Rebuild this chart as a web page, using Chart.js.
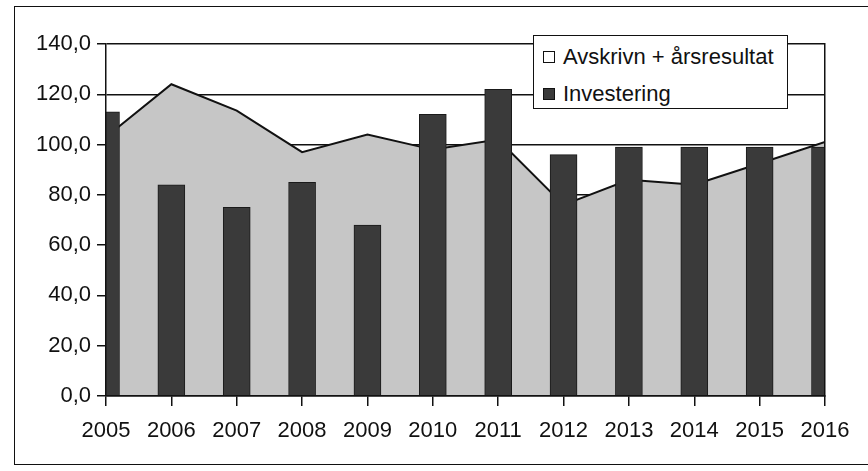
<!DOCTYPE html>
<html>
<head>
<meta charset="utf-8">
<script src="https://cdn.jsdelivr.net/npm/chart.js@4.4.1/dist/chart.umd.min.js"></script>
<style>
  html, body { margin: 0; padding: 0; background: #fff; }
  #wrap { position: relative; width: 868px; height: 471px; overflow: hidden; }
  #frame { position: absolute; left: 14px; top: 6px; width: 920px; height: 459px;
           border: 1.5px solid #111; border-right: none; box-sizing: border-box; }
  #myChart { position: absolute; left: 0; top: 0; }
  #legend { position: absolute; left: 533px; top: 35px; width: 255px; height: 74px;
            box-sizing: border-box; background: #fff; border: 1.5px solid #111;
            font: 22px 'Liberation Sans', Arial, sans-serif; color: #111; padding-top: 2px; }
  #legend .row { display: flex; align-items: center; height: 37px; white-space: nowrap; }
  #legend .box { width: 12px; height: 12px; margin-left: 9px; margin-right: 8px;
                 border: 1.5px solid #111; box-sizing: border-box; }
</style>
</head>
<body>
<div id="wrap">
  <div id="frame"></div>
  <canvas id="myChart" width="868" height="471"></canvas>
  <div id="legend"></div>
</div>
<script>
// data
const years = ['2005', '2006', '2007', '2008', '2009', '2010', '2011', '2012', '2013', '2014', '2015', '2016'];
const avskrivn = [103, 124, 113.5, 97, 104, 98, 102, 76, 86, 84, 92.5, 101];
const investering = [113, 84, 75, 85, 68, 112, 122, 96, 99, 99, 99, 99];
const yTicks = [0, 20, 40, 60, 80, 100, 120, 140];
const seriesNames = ['Avskrivn + årsresultat', 'Investering'];

const areaColor = '#c6c6c6';
const barColor = '#3a3a3a';
const ink = '#111';

Chart.defaults.font.family = "'Liberation Sans', Arial, sans-serif";
Chart.defaults.font.size = 22;
Chart.defaults.color = ink;

// legend box (sits inside the plot, like the Excel original)
const legendColors = [['#fff'], [barColor]];
document.getElementById('legend').innerHTML = seriesNames.map((name, i) =>
    '<div class="row"><span class="box" style="background:' + legendColors[i] + '"></span>' + name + '</div>'
).join('');

const data = {
    labels: years,
    datasets: [
        {
            type: 'line',
            label: seriesNames[0],
            data: avskrivn,
            fill: 'origin',
            backgroundColor: areaColor,
            borderColor: ink,
            borderWidth: 2,
            pointRadius: 0,
            tension: 0,
            order: 2,
            clip: 0
        },
        {
            type: 'bar',
            label: seriesNames[1],
            data: investering,
            backgroundColor: barColor,
            borderColor: '#1a1a1a',
            borderWidth: 1,
            barThickness: 27,
            order: 1,
            clip: 0
        }
    ]
};

const config = {
    type: 'bar',
    data: data,
    options: {
        animation: false,
        responsive: false,
        layout: { padding: { top: 44, left: 0, right: 0, bottom: 0 } },
        scales: {
            x: {
                offset: false,
                grid: { offset: false, drawOnChartArea: false, drawTicks: true, tickLength: 10, color: ink, lineWidth: 1.5 },
                border: { display: true, color: ink, width: 1.5, z: 1 },
                ticks: { maxRotation: 0, autoSkip: false, padding: 12 },
                afterFit: (s) => { s.height = 75; }
            },
            y: {
                min: 0,
                max: 140,
                afterBuildTicks: (axis) => { axis.ticks = yTicks.map(v => ({ value: v })); },
                grid: { color: ink, lineWidth: 1.5, tickLength: 9 },
                border: { display: true, color: ink, width: 1.5, z: 1 },
                ticks: {
                    padding: 6,
                    callback: (v) => v.toFixed(1).replace('.', ',')
                },
                afterFit: (s) => { s.width = 106; }
            },
            y2: {
                type: 'linear',
                position: 'right',
                grid: { drawOnChartArea: false, drawTicks: false },
                border: { display: true, color: ink, width: 1.5, z: 1 },
                ticks: { display: false },
                afterFit: (s) => { s.width = 43; }
            }
        },
        plugins: {
            legend: { display: false },
            tooltip: { enabled: false }
        }
    }
};

const myChart = new Chart(document.getElementById('myChart'), config);
</script>
</body>
</html>
